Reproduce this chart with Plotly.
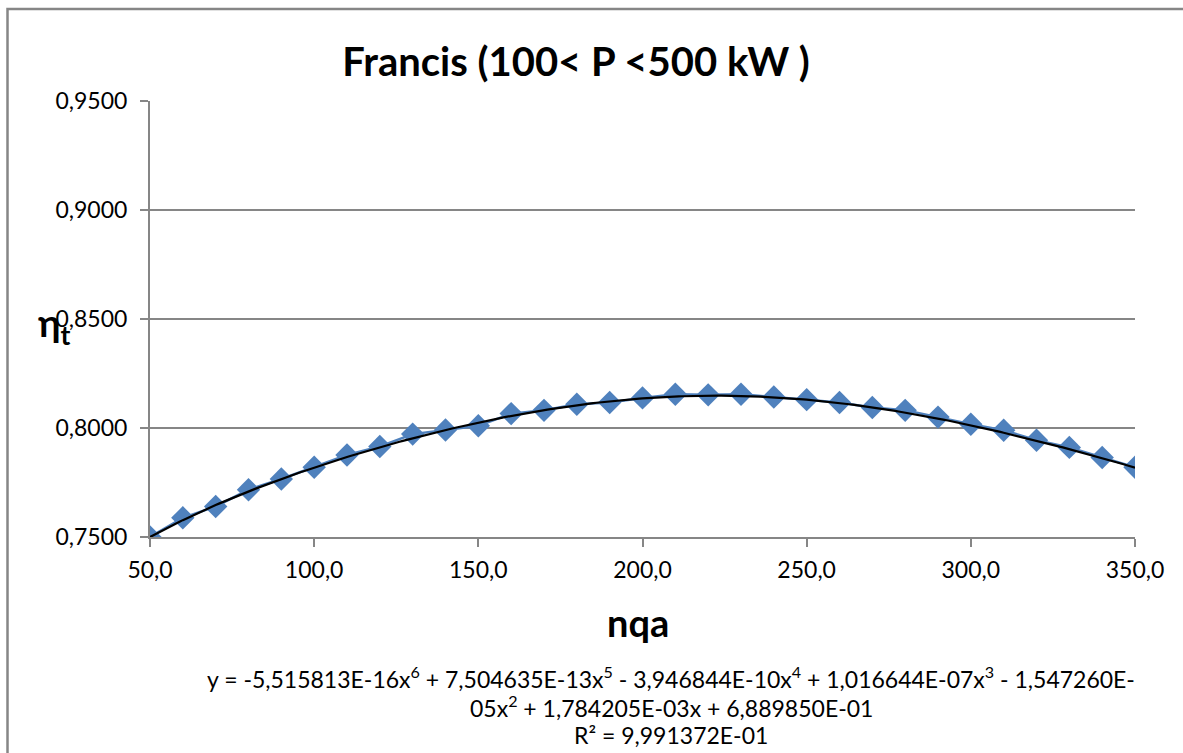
import numpy as np
import plotly.graph_objects as go

# Data
nqa = [50, 60, 70, 80, 90, 100, 110, 120, 130, 140, 150, 160, 170, 180, 190, 200,
       210, 220, 230, 240, 250, 260, 270, 280, 290, 300, 310, 320, 330, 340, 350]
eta = [0.7500, 0.7588, 0.7640, 0.7717, 0.7766, 0.7820, 0.7876, 0.7915, 0.7972, 0.7991,
       0.8010, 0.8066, 0.8081, 0.8109, 0.8117, 0.8138, 0.8155, 0.8152, 0.8155, 0.8142,
       0.8130, 0.8117, 0.8094, 0.8081, 0.8050, 0.8017, 0.7990, 0.7944, 0.7911, 0.7865,
       0.7820]

# Trendline coefficients as printed on the chart (highest power first)
trend_coefs = [-5.515813e-16, 7.504635e-13, -3.946844e-10, 1.016644e-07,
               -1.547260e-05, 1.784205e-03, 6.889850e-01]

y_ticks = [0.75, 0.80, 0.85, 0.90, 0.95]
x_ticks = [50, 100, 150, 200, 250, 300, 350]

tx = np.linspace(min(nqa), max(nqa), 301)
ty = np.polyval(trend_coefs, tx)

W, H = 1183, 753
L, R, T, B = 150, 48, 101, 216
pw, ph = W - L - R, H - T - B

def px(xp):
    return (xp - L) / pw

def py(yp):
    return (H - B - yp) / ph

fig = go.Figure()
fig.add_trace(go.Scatter(
    x=nqa, y=eta, mode="lines+markers",
    line=dict(color="#4F81BD", width=2.5),
    marker=dict(symbol="diamond", size=18, color="#4F81BD",
                line=dict(width=0)),
    showlegend=False, hoverinfo="x+y"))
fig.add_trace(go.Scatter(
    x=tx, y=ty, mode="lines", line=dict(color="black", width=2.2),
    showlegend=False, hoverinfo="skip"))

font = "Lato, 'Open Sans', sans-serif"

fig.update_layout(
    width=W, height=H,
    margin=dict(l=L, r=R, t=T, b=B, pad=0),
    paper_bgcolor="white", plot_bgcolor="white",
    separators=",.",
    font=dict(family=font, color="black"),
    title=dict(text="<b>Francis (100< P <500 kW )</b>",
               x=(576 - L) / pw, xanchor="center", xref="paper",
               y=1 - 62 / H, yanchor="middle",
               font=dict(size=40, family=font, color="black")),
    xaxis=dict(range=[50, 350], tickvals=x_ticks, tickformat=".1f",
               showgrid=False, zeroline=False,
               showline=True, linecolor="#868686", linewidth=2,
               ticks="outside", ticklen=8, tickcolor="#868686", tickwidth=2,
               tickfont=dict(size=23, family=font), ticklabelstandoff=3),
    yaxis=dict(range=[0.75, 0.95], tickvals=y_ticks, tickformat=".4f",
               showgrid=True, gridcolor="#868686", gridwidth=1.5,
               zeroline=False,
               showline=True, linecolor="#868686", linewidth=2,
               ticks="outside", ticklen=8, tickcolor="#868686", tickwidth=2,
               tickfont=dict(size=23, family=font), ticklabelstandoff=8),
)

# Chart-area border (left and top edges visible)
fig.add_shape(type="path", xref="paper", yref="paper",
              path=f"M {px(7.5)} {py(760)} L {px(7.5)} {py(9)} L {px(1190)} {py(9)}",
              line=dict(color="#868686", width=2.5))

# Axis titles
fig.add_annotation(text="<b>nqa</b>", xref="paper", yref="paper",
                   x=px(638), y=py(622), xanchor="center", yanchor="middle",
                   showarrow=False, font=dict(size=38, family=font))
fig.add_annotation(text="<b>η<sub>t</sub></b>", xref="paper", yref="paper",
                   x=px(54), y=py(325), xanchor="center", yanchor="middle",
                   showarrow=False, font=dict(size=38, family=font))

# Trendline equation
eq_lines = [
    "y = -5,515813E-16x<sup>6</sup> + 7,504635E-13x<sup>5</sup> - 3,946844E-10x<sup>4</sup> + 1,016644E-07x<sup>3</sup> - 1,547260E-",
    "05x<sup>2</sup> + 1,784205E-03x + 6,889850E-01",
    "R² = 9,991372E-01",
]
for i, ln in enumerate(eq_lines):
    fig.add_annotation(text=ln, xref="paper", yref="paper",
                       x=px(671), y=py(677 + 29 * i),
                       xanchor="center", yanchor="middle",
                       showarrow=False, font=dict(size=23, family=font))

fig.write_html("out.html")
